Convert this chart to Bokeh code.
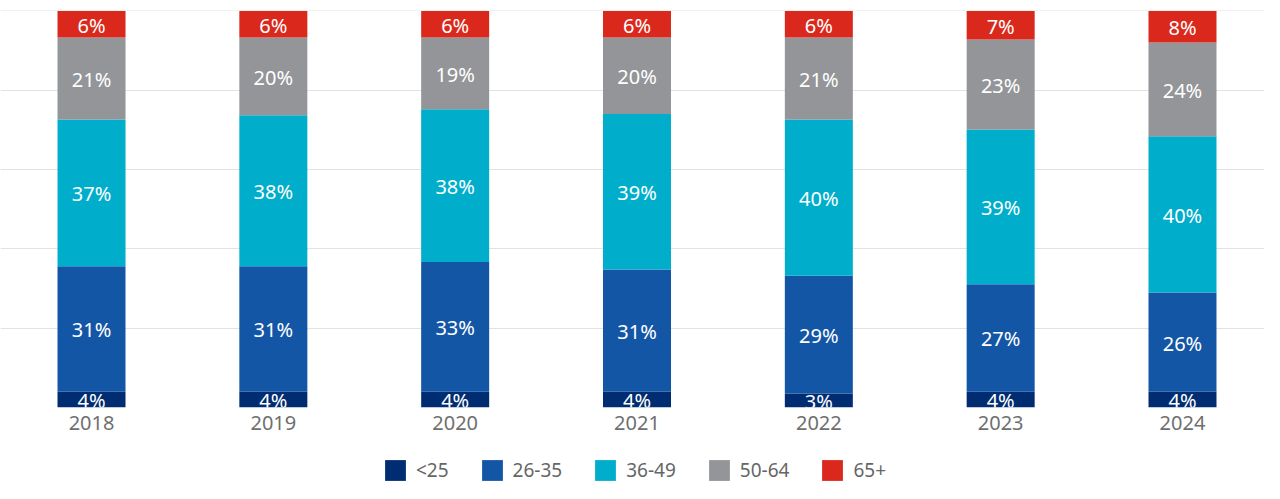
from bokeh.plotting import figure
from bokeh.layouts import column
from bokeh.models import ColumnDataSource, Range1d, FixedTicker, Legend, LegendItem
from bokeh.core.properties import value
from bokeh.embed import file_html
from bokeh.resources import INLINE

years = ["2018", "2019", "2020", "2021", "2022", "2023", "2024"]
groups = ["<25", "26-35", "36-49", "50-64", "65+"]
colors = ["#002d72", "#1456a6", "#00aecb", "#939598", "#da291c"]

# segment shares (%)
share_lt25 = [4.0, 4.0, 4.0, 4.0, 3.5, 4.0, 4.0]
share_26_35 = [31.6, 31.6, 32.7, 30.8, 29.7, 27.1, 25.0]
share_36_49 = [37.0, 38.1, 38.5, 39.2, 39.4, 39.0, 39.4]
share_50_64 = [20.7, 19.6, 18.1, 19.3, 20.7, 22.7, 23.6]
share_65 = [6.7, 6.7, 6.7, 6.7, 6.7, 7.2, 8.0]

# printed labels
label_lt25 = [4, 4, 4, 4, 3, 4, 4]
label_26_35 = [31, 31, 33, 31, 29, 27, 26]
label_36_49 = [37, 38, 38, 39, 40, 39, 40]
label_50_64 = [21, 20, 19, 20, 21, 23, 24]
label_65 = [6, 6, 6, 6, 6, 7, 8]

shares = [share_lt25, share_26_35, share_36_49, share_50_64, share_65]
labels = [label_lt25, label_26_35, label_36_49, label_50_64, label_65]

FONT = "Noto Sans"

xs = list(range(len(years)))
data = {"x": xs}
for g, s in zip(groups, shares):
    data[g] = s
source = ColumnDataSource(data)

p = figure(width=1264, height=442, output_backend="svg", toolbar_location=None,
           x_range=Range1d(-0.5005, 6.451), y_range=Range1d(0, 100.1),
           min_border_left=0, min_border_right=0, min_border_top=10, min_border_bottom=35)
p.outline_line_color = None
p.background_fill_color = "white"

p.vbar_stack(groups, x="x", width=0.374, color=colors, source=source, line_color=None)

# labels
lx, ly, lt = [], [], []
for i in xs:
    bottom = 0.0
    for s, lab in zip(shares, labels):
        lx.append(i)
        ly.append(bottom + s[i] / 2)
        lt.append(f"{lab[i]}%")
        bottom += s[i]
p.text(x=lx, y=ly, text=lt, text_color="white", text_align="center",
       text_baseline="middle", text_font=value(FONT), text_font_size="20px", y_offset=1)

p.xgrid.grid_line_color = None
p.ygrid.ticker = FixedTicker(ticks=[0, 20, 40, 60, 80, 100])
p.ygrid.grid_line_color = "#e2e2e2"
p.ygrid.grid_line_width = 1
p.yaxis.visible = False

ax = p.xaxis[0]
ax.ticker = FixedTicker(ticks=xs)
ax.major_label_overrides = {i: y for i, y in zip(xs, years)}
ax.axis_line_color = None
ax.major_tick_line_color = None
ax.minor_tick_line_color = None
ax.major_tick_out = 0
ax.major_label_standoff = 8
ax.major_label_text_font = FONT
ax.major_label_text_font_size = "20px"
ax.major_label_text_color = "#6f6f6f"

# legend strip
lg = figure(width=1264, height=41, output_backend="svg", toolbar_location=None,
            x_range=Range1d(0, 1), y_range=Range1d(0, 1),
            min_border_left=0, min_border_right=0, min_border_top=0, min_border_bottom=0)
lg.outline_line_color = None
lg.axis.visible = False
lg.grid.visible = False
swatches = [lg.vbar(x=[5], top=[5], bottom=[4], width=0.1, color=c, line_color=None)
            for c in colors]
items = [LegendItem(label=g, renderers=[r], index=0) for g, r in zip(groups, swatches)]
legend = Legend(items=items, orientation="horizontal", location=(382, 0),
                glyph_width=26, glyph_height=26, label_standoff=8, spacing=30,
                padding=0, margin=0, border_line_color=None, background_fill_alpha=0,
                label_text_font=FONT, label_text_font_size="19px",
                label_text_color="#666666")
lg.add_layout(legend, "center")

open("out.html", "w").write(file_html(column(p, lg), INLINE))
